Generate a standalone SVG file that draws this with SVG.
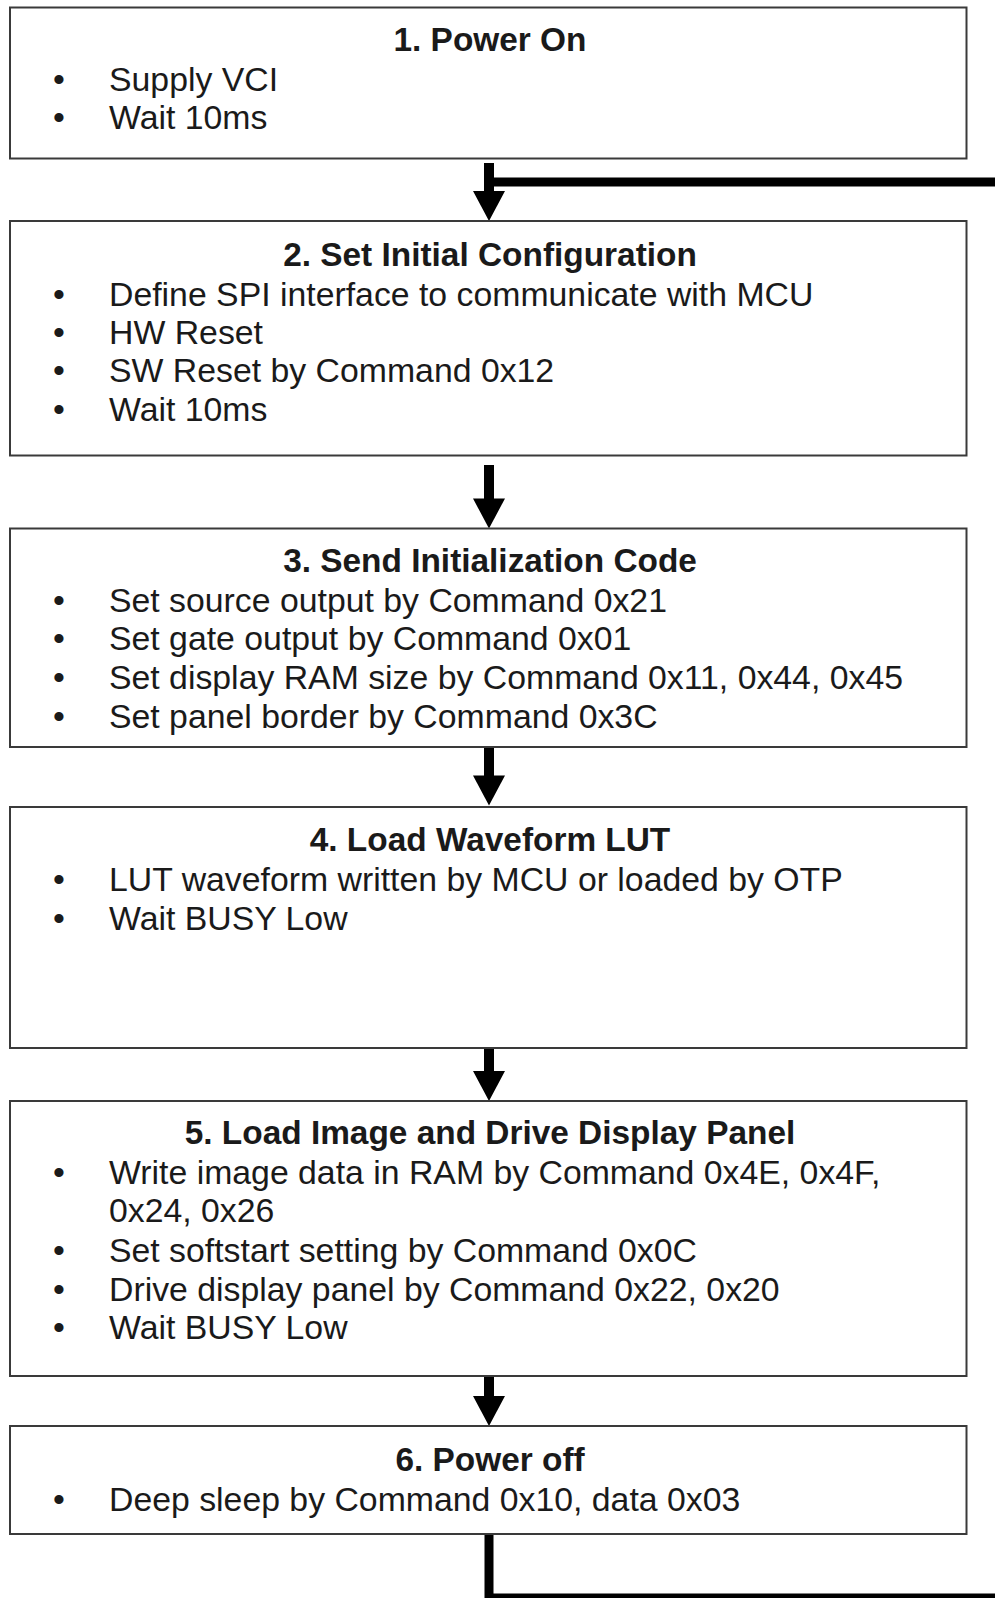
<svg xmlns="http://www.w3.org/2000/svg" width="995" height="1598" viewBox="0 0 995 1598">
<style>
.box{fill:#fff;stroke:#3a3a3a;stroke-width:2}
.t{font-family:"Liberation Sans",Arial,sans-serif;font-size:33.4px;font-weight:bold;fill:#1a1a1a;text-anchor:middle}
.b{font-family:"Liberation Sans",Arial,sans-serif;font-size:33.8px;fill:#1a1a1a}
.stem{stroke:#000;stroke-width:10;fill:none}
.line{stroke:#000;stroke-width:9;fill:none}
</style>
<defs>
<polygon id="head" points="-16,0 16,0 0,30" fill="#000"/>
</defs>
<rect width="995" height="1598" fill="#fff"/>
<g id="connectors">
<line class="stem" x1="489" y1="163" x2="489" y2="193"/>
<line class="line" x1="489" y1="182" x2="995" y2="182"/>
<use href="#head" x="489" y="191"/>
<line class="stem" x1="489" y1="465" x2="489" y2="500"/>
<use href="#head" x="489" y="498.5"/>
<line class="stem" x1="489" y1="747" x2="489" y2="777"/>
<use href="#head" x="489" y="775.5"/>
<line class="stem" x1="489" y1="1048" x2="489" y2="1073"/>
<use href="#head" x="489" y="1071"/>
<line class="stem" x1="489" y1="1376" x2="489" y2="1398"/>
<use href="#head" x="489" y="1396"/>
<polyline class="line" points="489,1534 489,1598 995,1598"/>
</g>
<g id="n1">
<rect class="box" x="10" y="7.5" width="956.5" height="151"/>
<text class="t" x="490" y="51">1. Power On</text>
<text class="b" x="53" y="91">•</text><text class="b" x="109" y="91">Supply VCI</text>
<text class="b" x="53" y="129">•</text><text class="b" x="109" y="129">Wait 10ms</text>
</g>
<g id="n2">
<rect class="box" x="10" y="221" width="956.5" height="234.5"/>
<text class="t" x="490" y="266">2. Set Initial Configuration</text>
<text class="b" x="53" y="306">•</text><text class="b" x="109" y="306">Define SPI interface to communicate with MCU</text>
<text class="b" x="53" y="344">•</text><text class="b" x="109" y="344">HW Reset</text>
<text class="b" x="53" y="382">•</text><text class="b" x="109" y="382">SW Reset by Command 0x12</text>
<text class="b" x="53" y="421">•</text><text class="b" x="109" y="421">Wait 10ms</text>
</g>
<g id="n3">
<rect class="box" x="10" y="528.5" width="956.5" height="218.5"/>
<text class="t" x="490" y="572">3. Send Initialization Code</text>
<text class="b" x="53" y="612">•</text><text class="b" x="109" y="612">Set source output by Command 0x21</text>
<text class="b" x="53" y="650">•</text><text class="b" x="109" y="650">Set gate output by Command 0x01</text>
<text class="b" x="53" y="689">•</text><text class="b" x="109" y="689">Set display RAM size by Command 0x11, 0x44, 0x45</text>
<text class="b" x="53" y="728">•</text><text class="b" x="109" y="728">Set panel border by Command 0x3C</text>
</g>
<g id="n4">
<rect class="box" x="10" y="807" width="956.5" height="241"/>
<text class="t" x="490" y="851">4. Load Waveform LUT</text>
<text class="b" x="53" y="891">•</text><text class="b" x="109" y="891">LUT waveform written by MCU or loaded by OTP</text>
<text class="b" x="53" y="930">•</text><text class="b" x="109" y="930">Wait BUSY Low</text>
</g>
<g id="n5">
<rect class="box" x="10" y="1101" width="956.5" height="275"/>
<text class="t" x="490" y="1144">5. Load Image and Drive Display Panel</text>
<text class="b" x="53" y="1184">•</text><text class="b" x="109" y="1184">Write image data in RAM by Command 0x4E, 0x4F,</text>
<text class="b" x="109" y="1222">0x24, 0x26</text>
<text class="b" x="53" y="1262">•</text><text class="b" x="109" y="1262">Set softstart setting by Command 0x0C</text>
<text class="b" x="53" y="1301">•</text><text class="b" x="109" y="1301">Drive display panel by Command 0x22, 0x20</text>
<text class="b" x="53" y="1339">•</text><text class="b" x="109" y="1339">Wait BUSY Low</text>
</g>
<g id="n6">
<rect class="box" x="10" y="1426" width="956.5" height="108"/>
<text class="t" x="490" y="1471">6. Power off</text>
<text class="b" x="53" y="1511">•</text><text class="b" x="109" y="1511">Deep sleep by Command 0x10, data 0x03</text>
</g>
</svg>
